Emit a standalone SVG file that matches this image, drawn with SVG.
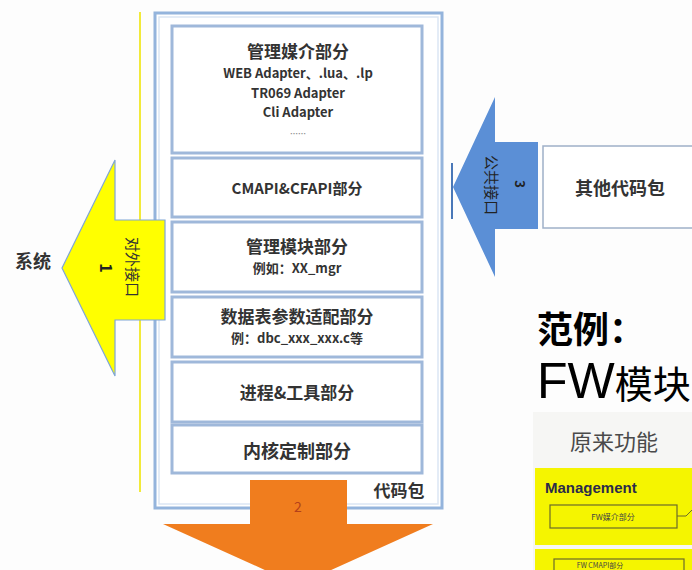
<svg xmlns="http://www.w3.org/2000/svg" width="692" height="570" viewBox="0 0 692 570">
<style>
.cj{font-family:"Noto Sans CJK SC","Liberation Sans",sans-serif}
.box{fill:#ffffff;stroke:#9fb8da;stroke-width:3}
.t{font-family:"Noto Sans CJK SC","Liberation Sans",sans-serif;font-weight:bold;fill:#333;text-anchor:middle}
.h{font-size:17px}
.s{font-size:13px}
</style>
<rect width="692" height="570" fill="#fdfdfd"/>
<!-- yellow vertical line -->
<line x1="140" y1="12" x2="140" y2="492" stroke="#f2ea3a" stroke-width="2"/>
<!-- outer code package -->
<g id="package">
<rect x="155" y="13" width="287" height="495" fill="#ffffff" stroke="#94b4dc" stroke-width="3"/>
<rect x="159" y="17" width="279" height="487" fill="none" stroke="#dbe6f4" stroke-width="1.5"/>
<text x="399" y="497" class="t" style="font-size:17px">代码包</text>
</g>
<g id="mgmt-media">
<rect x="172" y="26" width="250" height="127" class="box"/>
<text x="298" y="58" class="t h">管理媒介部分</text>
<text x="298" y="78" class="t s">WEB Adapter、.lua、.lp</text>
<text x="298" y="98" class="t s">TR069 Adapter</text>
<text x="298" y="117" class="t s">Cli Adapter</text>
<text x="298" y="137" class="t" style="font-size:8px;fill:#888">……</text>
</g>
<g id="cmapi">
<rect x="172" y="158" width="250" height="59" class="box"/>
<text x="297" y="194" class="t" style="font-size:15px">CMAPI&amp;CFAPI部分</text>
</g>
<g id="mgmt-module">
<rect x="172" y="222" width="250" height="70" class="box"/>
<text x="297" y="253" class="t h">管理模块部分</text>
<text x="297" y="273" class="t s">例如：XX_mgr</text>
</g>
<g id="dbtable">
<rect x="172" y="297" width="250" height="60" class="box"/>
<text x="297" y="323" class="t h">数据表参数适配部分</text>
<text x="297" y="343" class="t s">例：dbc_xxx_xxx.c等</text>
</g>
<g id="process">
<rect x="172" y="362" width="250" height="60" class="box"/>
<text x="297" y="399" class="t h">进程&amp;工具部分</text>
</g>
<g id="kernel">
<rect x="172" y="425" width="250" height="48" class="box"/>
<text x="297" y="458" class="t" style="font-size:18px">内核定制部分</text>
</g>
<g id="connectors">
<!-- yellow arrow 1 -->
<g id="arrow1">
<polygon points="62,268 115,160 115,220 165,220 165,320 115,320 115,376" fill="#ffff00" stroke="#7fa6d6" stroke-width="1.2"/>
<text transform="translate(107,268) rotate(90)" class="cj" style="font-size:16px;font-weight:bold;fill:#222;text-anchor:middle;dominant-baseline:central">1</text>
<text transform="translate(133,267) rotate(90)" class="cj" style="font-size:15px;fill:#333;text-anchor:middle;dominant-baseline:central">对外接口</text>
</g>
<!-- blue arrow 3 -->
<g id="arrow3">
<line x1="452" y1="163" x2="452" y2="219" stroke="#4a78b8" stroke-width="2"/>
<polygon points="453,187 495,97 495,142 538,142 538,229 495,229 495,277" fill="#5b8fd6"/>
<text transform="translate(520,184) rotate(90)" class="cj" style="font-size:13px;font-weight:bold;fill:#222;text-anchor:middle;dominant-baseline:central">3</text>
<text transform="translate(492,185) rotate(90)" class="cj" style="font-size:15px;fill:#222;text-anchor:middle;dominant-baseline:central">公共接口</text>
</g>
<!-- orange arrow 2 -->
<g id="arrow2">
<polygon points="250,480 347,480 347,524 433,524 298,585 163,524 250,524" fill="#f07d1e"/>
<text x="298" y="512" class="cj" style="font-size:14px;fill:#b4411a;text-anchor:middle">2</text>
</g>
</g>
<g id="system">
<text x="33" y="268" class="t" style="font-size:18px">系统</text>
</g>
<g id="other-package">
<rect x="543" y="146" width="160" height="82" fill="#ffffff" stroke="#9fb0c8" stroke-width="1.5"/>
<text x="620" y="195" class="t" style="font-size:18px">其他代码包</text>
</g>
<g id="example">
<text x="537" y="343" class="cj" style="font-size:36px;font-weight:bold;fill:#000">范例：</text>
<text x="537" y="398" style="fill:#000"><tspan style="font-family:'Liberation Sans',sans-serif;font-size:50px">FW</tspan><tspan class="cj" style="font-size:38px">模块</tspan></text>
<rect x="533" y="412" width="160" height="160" fill="#f6f6f4"/>
<text x="570" y="450" class="cj" style="font-size:22px;fill:#4a4a4a">原来功能</text>
<rect x="535" y="468" width="160" height="77" fill="#f5f500"/>
<text x="545" y="493" style="font-family:'Liberation Sans',sans-serif;font-weight:bold;font-size:15px;fill:#2b2b4a">Management</text>
<rect x="550" y="505" width="127" height="23" fill="none" stroke="#6b6b2a" stroke-width="1.2"/>
<text x="613" y="520" class="cj" style="font-size:8px;fill:#444;text-anchor:middle">FW媒介部分</text>
<polyline points="677,516 686,516 692,510" fill="none" stroke="#6b6b2a" stroke-width="1"/>
<rect x="535" y="549" width="160" height="30" fill="#f5f500"/>
<rect x="554" y="559" width="130" height="16" fill="none" stroke="#6b6b2a" stroke-width="1.2"/>
<text x="600" y="568" class="cj" style="font-size:7px;fill:#444;text-anchor:middle">FW CMAPI部分</text>
</g>
</svg>
